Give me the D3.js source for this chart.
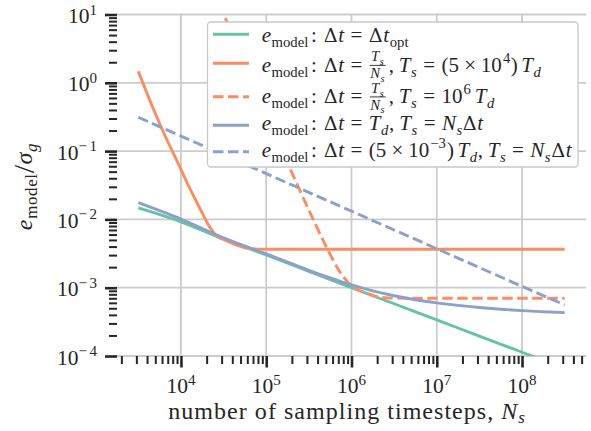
<!DOCTYPE html>
<html>
<head>
<meta charset="utf-8">
<script src="https://cdn.jsdelivr.net/npm/d3@7"></script>
<style>
  html, body { margin: 0; padding: 0; background: #fff; }
  svg { display: block; }
</style>
</head>
<body>
<svg id="chart" width="591" height="431"></svg>
<script>
// Model error versus number of sampling timesteps for several timestep choices.

// optimal timestep
const nsOpt  = [3.16e3, 1e4, 3.16e4, 1e5, 3.16e5, 1e6, 3.16e6, 1e7, 3.16e7, 1e8, 3.16e8];
const errOpt = [0.01472, 0.00923, 0.00513, 0.00302, 0.001738, 0.001, 0.000582, 0.000337, 0.000196, 0.0001135, 0.000066];

// fixed sampling time Ts = 5e4 Td
const nsTs5e4  = [3.16e3, 4.3e3, 6.07e3, 7.59e3, 9.51e3, 1.245e4, 1.787e4, 2.118e4, 2.559e4, 2.931e4, 3.35e4, 4.018e4, 5.023e4, 6.24e4, 8.17e4, 1.225e5, 1e6, 1e7, 1e8, 3.16e8];
const errTs5e4 = [1.474, 0.5604, 0.2039, 0.1112, 0.06166, 0.02985, 0.01222, 0.00812, 0.005923, 0.005299, 0.00492, 0.004446, 0.004018, 0.003745, 0.00367, 0.003657, 0.003656, 0.003656, 0.003656, 0.003656];

// fixed sampling time Ts = 1e6 Td
const nsTs1e6  = [2.82e4, 3.35e4, 6.31e4, 1e5, 2.01e5, 3.16e5, 4.94e5, 7.08e5, 1e6, 1.26e6, 1.585e6, 2e6, 2.51e6, 3.55e6, 5.01e6, 1e7, 1e8, 3.16e8];
const errTs1e6 = [14.1, 8.55, 1.233, 0.3225, 0.0474, 0.01374, 0.004227, 0.00182, 0.00106, 0.000902, 0.000809, 0.000738, 0.000711, 0.000703, 0.000701, 0.000701, 0.000701, 0.000701];

// dt = Td, Ts = Ns dt
const nsTd  = [3.16e3, 1e4, 3.16e4, 1e5, 3.16e5, 5.62e5, 1e6, 1.78e6, 3.16e6, 5.62e6, 1e7, 1.78e7, 3.16e7, 5.62e7, 1e8, 1.78e8, 3.16e8];
const errTd = [0.01758, 0.01012, 0.00537, 0.003126, 0.001799, 0.00139, 0.001096, 0.000897, 0.000762, 0.000667, 0.0006, 0.00055, 0.000512, 0.000483, 0.000461, 0.000445, 0.0004315];

// dt = 5e-3 Td, Ts = Ns dt
const nsSmall  = [3.16e3, 1e4, 1e5, 1e6, 1e7, 1e8, 3.16e8];
const errSmall = [0.3126, 0.166, 0.0468, 0.0132, 0.00372, 0.001047, 0.00056];

const xMajor = [1e4, 1e5, 1e6, 1e7, 1e8];
const xMajorExp = ["4", "5", "6", "7", "8"];
const yMajor = [1e-4, 1e-3, 1e-2, 1e-1, 1e0, 1e1];
const yMajorExp = ["\u22124", "\u22123", "\u22122", "\u22121", "0", "1"];

const palette = { green: "#66c2a5", orange: "#fc8d62", blue: "#8da0cb" };

const series = [
  { ns: nsOpt,   err: errOpt,   color: palette.green,  dash: null },
  { ns: nsTs5e4, err: errTs5e4, color: palette.orange, dash: null },
  { ns: nsTs1e6, err: errTs1e6, color: palette.orange, dash: "10.5,4.5" },
  { ns: nsTd,    err: errTd,    color: palette.blue,   dash: null },
  { ns: nsSmall, err: errSmall, color: palette.blue,   dash: "10.5,4.5" }
];

const FONT = "Liberation Serif, Times New Roman, serif";
const GREEK = "DejaVu Serif, Liberation Serif, serif";
const INK = "#262626";

const plot = { left: 117, right: 586, top: 14.5, bottom: 356 };

const svg = d3.select("#chart");

const x = d3.scaleLog().domain([Math.pow(10, 3.25), Math.pow(10, 8.75)]).range([plot.left, plot.right]);
const y = d3.scaleLog().domain([1e-4, 1e1]).range([plot.bottom, plot.top]);

// minor tick positions
const xMinor = [];
for (let e = 3; e <= 8; e++) for (let k = 2; k <= 9; k++) {
  const v = k * Math.pow(10, e);
  if (v >= x.domain()[0] && v <= x.domain()[1]) xMinor.push(v);
}
const yMinor = [];
for (let e = -4; e <= 0; e++) for (let k = 2; k <= 9; k++) yMinor.push(k * Math.pow(10, e));

// grid
const grid = svg.append("g").attr("stroke", "#cccccc").attr("stroke-width", 1.8);
grid.selectAll("line.gx").data(xMajor).join("line")
  .attr("x1", d => x(d)).attr("x2", d => x(d))
  .attr("y1", plot.top).attr("y2", plot.bottom);
grid.selectAll("line.gy").data(yMajor).join("line")
  .attr("x1", plot.left).attr("x2", plot.right)
  .attr("y1", d => y(d)).attr("y2", d => y(d));

// axes (tick marks only, no spine)
function styleAxis(g, width) {
  g.select(".domain").remove();
  g.selectAll(".tick line").attr("stroke", INK).attr("stroke-width", width);
  g.selectAll(".tick text").remove();
}
svg.append("g").attr("transform", `translate(0,${plot.bottom})`)
  .call(d3.axisBottom(x).tickValues(xMinor).tickSize(8))
  .call(g => styleAxis(g, 2));
svg.append("g").attr("transform", `translate(0,${plot.bottom})`)
  .call(d3.axisBottom(x).tickValues(xMajor).tickSize(11.5))
  .call(g => styleAxis(g, 2.6));
svg.append("g").attr("transform", `translate(${plot.left},0)`)
  .call(d3.axisLeft(y).tickValues(yMinor).tickSize(8))
  .call(g => styleAxis(g, 2));
svg.append("g").attr("transform", `translate(${plot.left},0)`)
  .call(d3.axisLeft(y).tickValues(yMajor).tickSize(12))
  .call(g => styleAxis(g, 2.6));

// tick labels 10^k
const tickFs = 21.5;
const xl = svg.append("g").attr("font-family", FONT).attr("font-size", tickFs).attr("fill", INK);
xMajor.forEach((v, i) => {
  const t = xl.append("text").attr("x", x(v)).attr("y", 393).attr("text-anchor", "middle");
  t.append("tspan").text("10");
  t.append("tspan").attr("dy", -8.5).attr("font-size", tickFs * 0.7).text(xMajorExp[i]);
});
const yl = svg.append("g").attr("font-family", FONT).attr("font-size", tickFs).attr("fill", INK);
yMajor.forEach((v, i) => {
  const t = yl.append("text").attr("x", 97).attr("y", y(v) + 8.5).attr("text-anchor", "end");
  t.append("tspan").text("10");
  const exp = yMajorExp[i];
  if (exp.startsWith("\u2212")) {
    t.append("tspan").attr("dy", -8.5).attr("font-size", tickFs * 0.7).text("\u2212");
    t.append("tspan").attr("dx", 2.5).attr("font-size", tickFs * 0.7).text(exp.slice(1));
  } else {
    t.append("tspan").attr("dy", -8.5).attr("font-size", tickFs * 0.7).text(exp);
  }
});

// axis titles
const xt = svg.append("text").attr("font-family", FONT).attr("font-size", 24).attr("fill", INK)
  .attr("x", 168.3).attr("y", 419);
xt.append("tspan").text("number of sampling timesteps, ");
xt.append("tspan").attr("font-style", "italic").text("N");
xt.append("tspan").attr("font-style", "italic").attr("font-size", 17).attr("dy", 4).text("s");
const xtNatural = xt.node().getComputedTextLength();
xt.attr("letter-spacing", Math.max(0, (357.7 - xtNatural) / xt.text().length));

const yt = svg.append("text").attr("font-family", FONT).attr("font-size", 24).attr("fill", INK)
  .attr("transform", "translate(32,186.5) rotate(-90)").attr("text-anchor", "middle")
  .attr("letter-spacing", 0.6);
yt.append("tspan").attr("font-style", "italic").text("e");
yt.append("tspan").attr("font-size", 17).attr("dy", 5).text("model");
yt.append("tspan").attr("font-size", 30).attr("dy", -3).text("/");
yt.append("tspan").attr("font-style", "italic").attr("dy", -2).text("\u03c3");
yt.append("tspan").attr("font-style", "italic").attr("font-size", 17).attr("dy", 5).text("g");

// curves
svg.append("clipPath").attr("id", "plotClip").append("rect")
  .attr("x", plot.left).attr("y", plot.top)
  .attr("width", plot.right - plot.left).attr("height", plot.bottom - plot.top);

const line = d3.line().x(d => x(d[0])).y(d => y(d[1])).curve(d3.curveMonotoneX);
const curves = svg.append("g").attr("clip-path", "url(#plotClip)");
series.forEach(s => {
  curves.append("path")
    .attr("d", line(s.ns.map((n, i) => [n, s.err[i]])))
    .attr("fill", "none").attr("stroke", s.color).attr("stroke-width", 2.9)
    .attr("stroke-dasharray", s.dash);
});

// legend
const legend = svg.append("g");
legend.append("rect").attr("x", 207.5).attr("y", 22).attr("width", 370.5).attr("height", 145)
  .attr("rx", 3.5).attr("fill", "#fff").attr("stroke", "#c8c8c8").attr("stroke-width", 1.3);

const it = t => ({ t, it: true });
const rm = t => ({ t });
const gk = t => ({ t, gk: true });
const sub = (...p) => ({ sub: p });
const sup = (...p) => ({ sup: p });
const sp = em => ({ sp: em });
const frac = (num, den) => ({ frac: [num, den] });

const LS = 0.55; // extra tracking per glyph in the legend

// lays out a small math expression left to right, returning the end x
function layout(g, parts, x0, y0, fs) {
  let cx = x0;
  parts.forEach(p => {
    if (p.sp !== undefined) { cx += p.sp * fs; return; }
    if (p.sub) { cx = layout(g, p.sub, cx, y0 + 0.26 * fs, fs * 0.7); return; }
    if (p.sup) { cx = layout(g, p.sup, cx, y0 - 0.42 * fs, fs * 0.7); return; }
    if (p.frac) {
      const f = fs * 0.7;
      const gn = g.append("g"), gd = g.append("g");
      const wn = layout(gn, p.frac[0], 0, 0, f);
      const wd = layout(gd, p.frac[1], 0, 0, f);
      const w = Math.max(wn, wd) + 0.14 * fs;
      gn.attr("transform", `translate(${cx + (w - wn) / 2},${y0 - 0.49 * fs})`);
      gd.attr("transform", `translate(${cx + (w - wd) / 2},${y0 + 0.31 * fs})`);
      g.append("line").attr("x1", cx + 0.05 * fs).attr("x2", cx + w - 0.05 * fs)
        .attr("y1", y0 - 0.29 * fs).attr("y2", y0 - 0.29 * fs)
        .attr("stroke", INK).attr("stroke-width", 0.9);
      cx += w;
      return;
    }
    const t = g.append("text").attr("x", cx).attr("y", y0)
      .attr("font-size", p.gk ? fs * 0.92 : fs)
      .attr("font-family", p.gk ? GREEK : null)
      .attr("font-style", p.it ? "italic" : null).text(p.t);
    cx += t.node().getComputedTextLength() + LS * p.t.length;
  });
  return cx;
}

const eModel = [it("e"), sub(rm("model")), rm(":"), sp(0.3)];
const eq = [sp(0.28), rm("="), sp(0.28)];
const dt = [gk("\u0394"), it("t")];
const Ts = [it("T"), sub(it("s"))];
const Td = [it("T"), sub(it("d"))];
const Ns = [it("N"), sub(it("s"))];
const fracTN = frac(Ts, Ns);
const times = [sp(0.2), rm("\u00d7"), sp(0.2)];

const legendRows = [
  [...eModel, ...dt, ...eq, ...dt, sub(rm("opt"))],
  [...eModel, ...dt, ...eq, fracTN, sp(0.1), rm(","), sp(0.2), ...Ts, ...eq,
    rm("(5"), ...times, rm("10"), sup(rm("4")), rm(")"), sp(0.14), ...Td],
  [...eModel, ...dt, ...eq, fracTN, sp(0.1), rm(","), sp(0.2), ...Ts, ...eq,
    rm("10"), sup(rm("6")), sp(0.16), ...Td],
  [...eModel, ...dt, ...eq, ...Td, rm(","), sp(0.22), ...Ts, ...eq, ...Ns, gk("\u0394"), it("t")],
  [...eModel, ...dt, ...eq, rm("(5"), ...times, rm("10"), sup(rm("\u22123")),
    rm(")"), sp(0.14), ...Td, rm(","), sp(0.2), ...Ts, ...eq, ...Ns, gk("\u0394"), it("t")]
];
const handleY = [34.3, 63.3, 96.7, 125.3, 151.7];
const baseY = [42, 71.5, 103, 130, 156.5];

const lt = legend.append("g").attr("font-family", FONT).attr("fill", INK);
series.forEach((s, i) => {
  legend.append("line").attr("x1", 213).attr("x2", 249)
    .attr("y1", handleY[i]).attr("y2", handleY[i])
    .attr("stroke", s.color).attr("stroke-width", 2.9).attr("stroke-dasharray", s.dash);
  layout(lt.append("g"), legendRows[i], 261.7, baseY[i], 21);
});
</script>
</body>
</html>
